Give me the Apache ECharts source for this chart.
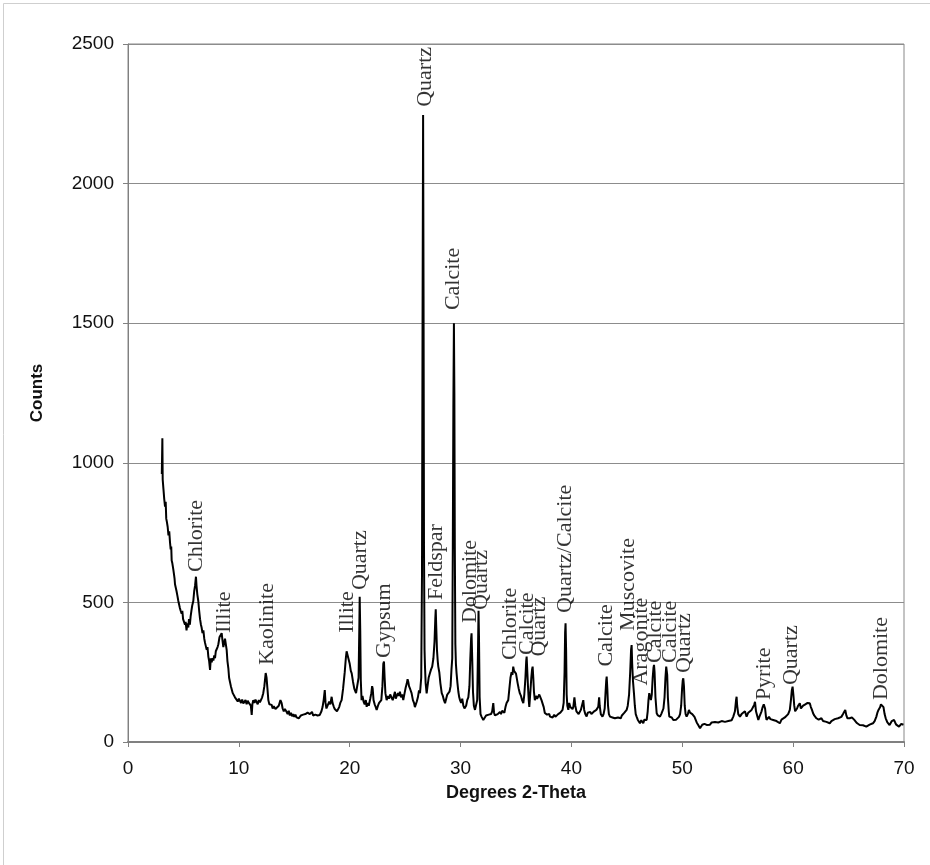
<!DOCTYPE html>
<html>
<head>
<meta charset="utf-8">
<script src="https://cdn.jsdelivr.net/npm/echarts@6/dist/echarts.min.js"></script>
<style>html,body{margin:0;padding:0;background:#fff}#c{width:930px;height:865px}</style>
</head>
<body>
<div id="c"></div>
<script>
var twoTheta = [3.05,3.1,3.13,3.2,3.27,3.34,3.4,3.45,3.5,3.58,3.65,3.72,3.79,3.85,3.9,3.94,4.0,4.08,4.15,4.2,4.24,4.3,4.38,4.45,4.54,4.6,4.68,4.75,4.84,4.9,4.97,5.05,5.14,5.2,5.28,5.35,5.44,5.5,5.58,5.65,5.72,5.8,5.89,5.97,6.05,6.13,6.18,6.25,6.34,6.42,6.5,6.58,6.64,6.72,6.8,6.88,6.95,7.03,7.1,7.17,7.25,7.32,7.4,7.47,7.55,7.62,7.7,7.78,7.85,7.92,8.0,8.08,8.15,8.25,8.35,8.45,8.52,8.6,8.66,8.75,8.84,8.9,8.97,9.05,9.12,9.2,9.28,9.35,9.45,9.55,9.65,9.8,9.9,10.0,10.1,10.2,10.3,10.4,10.5,10.6,10.7,10.8,10.9,11.0,11.08,11.16,11.22,11.3,11.4,11.5,11.6,11.7,11.8,11.9,12.0,12.1,12.2,12.3,12.42,12.5,12.58,12.66,12.75,12.85,12.96,13.05,13.15,13.3,13.45,13.6,13.75,13.86,13.95,14.05,14.15,14.3,14.4,14.5,14.6,14.7,14.8,14.9,15.0,15.1,15.2,15.3,15.4,15.5,15.6,15.7,15.8,15.9,16.0,16.1,16.2,16.3,16.4,16.5,16.6,16.7,16.8,16.9,17.0,17.1,17.2,17.3,17.45,17.55,17.65,17.75,17.82,17.9,18.0,18.07,18.15,18.25,18.37,18.45,18.55,18.65,18.75,18.85,18.97,19.05,19.15,19.27,19.4,19.55,19.65,19.72,19.82,19.9,20.0,20.1,20.18,20.3,20.42,20.57,20.7,20.8,20.87,20.9,20.95,21.0,21.07,21.15,21.25,21.35,21.45,21.53,21.62,21.72,21.85,21.95,22.02,22.07,22.15,22.25,22.35,22.43,22.55,22.65,22.75,22.85,22.95,23.03,23.09,23.15,23.22,23.33,23.45,23.55,23.65,23.78,23.88,23.98,24.08,24.15,24.23,24.35,24.45,24.53,24.63,24.73,24.83,24.95,25.05,25.15,25.22,25.28,25.35,25.45,25.58,25.7,25.8,25.88,25.97,26.05,26.15,26.25,26.34,26.45,26.52,26.57,26.62,26.66,26.7,26.75,26.79,26.85,26.94,27.02,27.12,27.24,27.34,27.44,27.55,27.65,27.72,27.76,27.8,27.87,27.94,27.99,28.08,28.18,28.3,28.4,28.5,28.6,28.7,28.8,28.9,29.0,29.1,29.18,29.25,29.3,29.35,29.4,29.44,29.48,29.53,29.58,29.64,29.72,29.8,29.88,29.95,30.05,30.15,30.25,30.35,30.4,30.5,30.6,30.7,30.8,30.88,30.95,30.99,31.05,31.12,31.2,31.3,31.4,31.5,31.58,31.62,31.66,31.72,31.8,31.9,32.05,32.15,32.3,32.45,32.55,32.65,32.75,32.85,32.95,33.02,33.1,33.25,33.35,33.45,33.55,33.65,33.75,33.85,33.95,34.05,34.15,34.3,34.4,34.5,34.6,34.68,34.75,34.82,34.9,35.0,35.05,35.15,35.25,35.35,35.45,35.55,35.66,35.75,35.85,35.92,35.96,36.0,36.08,36.15,36.2,36.28,36.38,36.45,36.5,36.56,36.62,36.7,36.8,36.9,37.0,37.1,37.2,37.3,37.4,37.5,37.6,37.7,37.8,37.9,38.0,38.07,38.2,38.3,38.45,38.55,38.67,38.8,38.9,39.0,39.1,39.2,39.3,39.38,39.43,39.47,39.52,39.57,39.63,39.72,39.8,39.9,40.0,40.1,40.17,40.27,40.35,40.45,40.55,40.65,40.77,40.85,40.95,41.07,41.15,41.25,41.37,41.47,41.6,41.7,41.8,41.97,42.05,42.15,42.25,42.35,42.42,42.5,42.55,42.65,42.8,42.9,43.0,43.08,43.14,43.18,43.24,43.3,43.38,43.48,43.58,43.7,43.8,43.92,44.08,44.2,44.3,44.45,44.55,44.68,44.78,44.88,44.98,45.08,45.2,45.3,45.38,45.43,45.48,45.55,45.64,45.72,45.8,45.88,45.98,46.08,46.18,46.3,46.4,46.48,46.58,46.68,46.79,46.88,46.95,47.02,47.09,47.17,47.25,47.33,47.4,47.45,47.5,47.58,47.69,47.8,47.9,47.99,48.1,48.2,48.3,48.4,48.48,48.55,48.59,48.64,48.7,48.78,48.83,48.95,49.05,49.19,49.3,49.45,49.6,49.7,49.8,49.9,49.98,50.04,50.09,50.15,50.22,50.3,50.39,50.5,50.6,50.7,50.8,50.9,50.99,51.1,51.2,51.3,51.45,51.6,51.7,51.8,51.9,52.0,52.1,52.2,52.35,52.5,52.65,52.8,52.95,53.1,53.25,53.4,53.55,53.7,53.85,54.0,54.15,54.3,54.45,54.6,54.75,54.85,54.9,54.95,55.05,55.2,55.35,55.5,55.65,55.8,55.95,56.1,56.25,56.4,56.5,56.56,56.65,56.75,56.86,56.95,57.05,57.15,57.25,57.35,57.4,57.47,57.55,57.6,57.7,57.82,57.95,58.05,58.2,58.35,58.5,58.65,58.8,58.95,59.1,59.25,59.4,59.55,59.7,59.8,59.88,59.95,60.02,60.1,60.18,60.25,60.35,60.45,60.53,60.6,60.7,60.8,60.9,61.0,61.1,61.2,61.3,61.4,61.5,61.6,61.7,61.8,61.9,62.0,62.1,62.2,62.3,62.4,62.55,62.7,62.85,63.0,63.15,63.3,63.45,63.6,63.75,63.9,64.05,64.2,64.35,64.5,64.6,64.7,64.8,64.9,65.0,65.1,65.2,65.3,65.4,65.5,65.6,65.75,65.9,66.0,66.15,66.3,66.45,66.6,66.75,66.9,67.05,67.2,67.35,67.5,67.6,67.7,67.78,67.85,67.92,68.0,68.08,68.15,68.25,68.35,68.4,68.5,68.6,68.7,68.8,68.9,69.0,69.1,69.2,69.3,69.4,69.55,69.65,69.75,69.85,69.95];

var counts = [960,1088,940,905,870,843,860,800,790,770,740,755,715,690,700,650,640,620,600,585,565,570,540,525,505,510,480,470,460,470,440,445,420,430,400,425,410,440,420,450,470,490,505,540,560,592,560,530,505,470,440,420,410,390,400,370,355,350,330,340,305,290,258,300,285,300,292,310,300,325,318,340,350,375,370,390,365,340,345,370,377,330,290,265,230,215,200,195,175,170,160,155,145,155,148,140,152,138,145,150,135,148,140,146,130,97,135,150,140,152,148,135,150,142,145,160,175,200,247,230,190,150,135,128,133,120,128,118,125,130,150,139,120,110,118,108,100,112,95,105,92,100,90,98,88,95,85,90,95,88,98,92,100,95,105,112,100,98,108,95,90,98,91,95,102,97,110,125,150,186,140,120,125,126,145,135,162,140,128,118,125,110,115,125,140,150,190,250,300,325,332,320,280,255,246,215,190,175,180,230,420,520,400,220,150,165,145,135,150,126,140,130,155,175,200,192,150,135,125,115,130,140,135,150,200,280,288,230,175,150,165,155,170,174,150,165,180,155,162,175,165,180,160,170,150,175,195,210,225,216,200,190,175,150,140,125,120,145,160,185,175,230,600,1500,2246,1600,700,330,270,210,174,200,230,247,260,270,300,360,440,475,420,330,290,270,250,210,175,165,150,139,155,170,165,180,200,260,300,700,1200,1500,1250,700,350,280,246,210,180,160,150,140,155,130,120,115,130,150,160,200,300,370,389,300,180,130,115,120,150,350,470,380,160,100,90,79,85,95,88,98,91,100,110,139,105,95,91,100,95,108,100,112,115,105,125,140,150,190,230,250,240,270,255,250,245,246,210,190,174,165,150,139,170,230,290,306,270,200,150,126,170,230,260,270,230,180,150,165,155,162,170,160,150,145,125,104,110,98,95,100,91,95,88,98,90,91,100,95,105,103,115,140,250,390,425,330,170,130,115,140,125,130,118,126,160,130,110,115,100,104,115,120,150,115,100,91,105,98,108,100,103,110,105,115,120,126,160,130,100,91,100,120,180,220,234,190,130,100,91,95,88,92,85,79,88,92,85,95,91,105,110,115,130,170,250,330,347,280,220,175,130,100,91,80,75,67,78,72,67,80,78,79,110,150,175,180,150,170,230,265,276,250,160,103,95,90,91,100,110,120,160,230,270,276,240,160,110,91,85,88,79,85,80,79,90,100,130,190,220,228,200,130,100,91,100,115,105,110,100,103,90,80,70,60,49,55,62,58,65,60,61,68,62,70,65,72,67,70,65,75,68,72,67,75,80,78,91,110,150,162,130,100,91,100,95,110,91,105,100,115,126,135,144,110,95,79,90,95,110,125,135,139,120,90,79,85,90,82,88,79,85,75,80,67,80,85,88,91,100,115,150,185,198,170,130,110,103,120,130,125,139,120,115,130,125,135,130,140,144,139,125,115,103,95,90,85,88,80,79,85,75,80,72,75,67,75,70,82,79,85,80,90,100,105,115,95,85,79,85,80,88,91,80,75,68,65,61,65,60,58,55,60,62,65,67,75,90,105,115,110,125,135,128,139,125,100,85,79,70,65,61,68,75,80,79,70,62,58,55,60,65,67,62];

var peakNames = ['Chlorite','Illite','Kaolinite','Illite','Quartz','Gypsum','Quartz','Feldspar','Calcite','Dolomite','Quartz','Chlorite','Calcite','Quartz','Quartz/Calcite','Calcite','Muscovite','Aragonite','Calcite','Calcite','Quartz','Pyrite','Quartz','Dolomite'];
var peakTheta = [6.19,8.66,12.57,19.73,20.93,23.12,26.79,27.84,29.35,30.91,31.9,34.52,36.02,37.07,39.42,43.12,45.13,46.33,47.54,48.89,50.15,57.4,59.87,67.98];
var peakLabelCounts = [609,390,276,391,544,301,2275,509,1547,426,473,294,312,306,462,270,398,202,283,283,247,150,204,150];

var xTicks = [0,10,20,30,40,50,60,70];
var yTicks = [0,500,1000,1500,2000,2500];

var lineData = twoTheta.map(function (t, i) { return [t, counts[i]]; });
var labelData = peakNames.map(function (n, i) { return { name: n, value: [peakTheta[i], peakLabelCounts[i]] }; });

var chart = echarts.init(document.getElementById('c'), null, { renderer: 'canvas' });
chart.setOption({
  animation: false,
  backgroundColor: '#ffffff',
  graphic: [{
    type: 'rect', left: 1, top: 1, shape: { width: 927, height: 862 },
    style: { fill: 'none', stroke: '#cfcfcf', lineWidth: 1 }, silent: true
  }],
  grid: { left: 128, right: 26, top: 44, bottom: 123, show: true, borderColor: '#888', borderWidth: 1, backgroundColor: 'transparent' },
  xAxis: {
    type: 'value', min: xTicks[0], max: xTicks[xTicks.length - 1], interval: 10,
    name: 'Degrees 2-Theta', nameLocation: 'middle', nameGap: 42,
    nameTextStyle: { fontFamily: 'Liberation Sans, Arial', fontWeight: 'bold', fontSize: 18, color: '#111' },
    axisLine: { show: true, lineStyle: { color: '#808080', width: 2 } },
    axisTick: { show: true, inside: false, length: 5, lineStyle: { color: '#808080' } },
    axisLabel: { margin: 17, fontFamily: 'Liberation Sans, Arial', fontSize: 19, color: '#111', formatter: function (v) { return String(v); } },
    splitLine: { show: false }
  },
  yAxis: {
    type: 'value', min: yTicks[0], max: yTicks[yTicks.length - 1], interval: 500,
    name: 'Counts', nameLocation: 'middle', nameGap: 82, nameRotate: 90,
    nameTextStyle: { fontFamily: 'Liberation Sans, Arial', fontWeight: 'bold', fontSize: 17, color: '#111' },
    axisLine: { show: true, lineStyle: { color: '#808080', width: 1 } },
    axisTick: { show: true, inside: false, length: 5, lineStyle: { color: '#808080' } },
    axisLabel: { margin: 14, fontFamily: 'Liberation Sans, Arial', fontSize: 19, color: '#111', formatter: function (v) { return String(v); } },
    splitLine: { show: true, lineStyle: { color: '#8c8c8c', width: 1 } }
  },
  series: [{
    type: 'line', data: lineData, showSymbol: false, symbol: 'none',
    lineStyle: { color: '#000', width: 2 }, z: 3
  }, {
    type: 'scatter', data: labelData, symbolSize: 0, z: 4,
    label: {
      show: true, position: 'top', distance: 0, rotate: 90, align: 'left', verticalAlign: 'middle',
      formatter: function (p) { return p.name; },
      fontFamily: 'Liberation Serif, Times New Roman', fontSize: 22, color: '#000'
    }
  }]
});
</script>
</body>
</html>
